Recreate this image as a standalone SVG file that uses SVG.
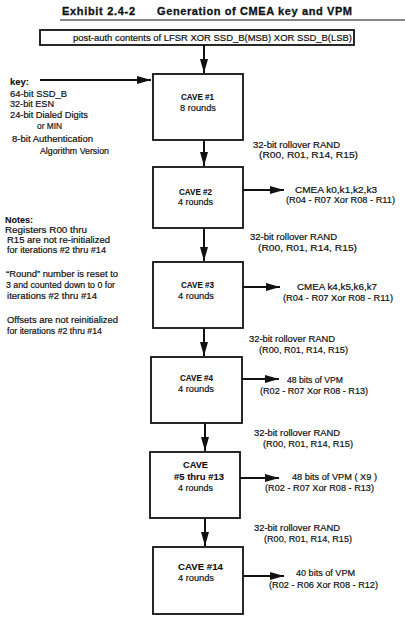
<svg xmlns="http://www.w3.org/2000/svg" width="405" height="620" viewBox="0 0 405 620">
<style>
text{font-family:"Liberation Sans",Arial,sans-serif;font-size:9.5px;fill:#111;stroke:#111;stroke-width:0.2}
.t{font-size:11px;font-weight:bold;stroke-width:0.3}
.b{font-weight:bold;stroke-width:0.1}
.box{fill:#fff;stroke:#111;stroke-width:1.8}
.c{stroke:#111;stroke-width:2;fill:none}
</style>
<defs>
<marker id="ah" viewBox="0 0 14 8" refX="14" refY="4" markerWidth="14" markerHeight="8" markerUnits="userSpaceOnUse" orient="auto">
<path d="M0,0 L14,4 L0,8 Z" fill="#111"/>
</marker>
</defs>
<rect width="405" height="620" fill="#fff"/>
<g id="title">
<text class="t" x="62" y="15" textLength="73">Exhibit 2.4-2</text>
<text class="t" x="157" y="15" textLength="195">Generation of CMEA key and VPM</text>
<line x1="60" y1="20" x2="405" y2="20" stroke="#111" stroke-width="1"/>
</g>
<g id="input">
<rect class="box" x="40" y="30" width="314" height="15"/>
<text x="73" y="41" textLength="279" lengthAdjust="spacingAndGlyphs">post-auth contents of LFSR XOR SSD_B(MSB) XOR SSD_B(LSB)</text>
</g>
<g id="key">
<text class="b" x="10" y="85" textLength="19" lengthAdjust="spacingAndGlyphs">key:</text>
<text x="10" y="97" textLength="57" lengthAdjust="spacingAndGlyphs">64-bit SSD_B</text>
<text x="10" y="107" textLength="44" lengthAdjust="spacingAndGlyphs">32-bit ESN</text>
<text x="10" y="118" textLength="78" lengthAdjust="spacingAndGlyphs">24-bit Dialed Digits</text>
<text x="37" y="129" textLength="25" lengthAdjust="spacingAndGlyphs">or MIN</text>
<text x="12" y="142" textLength="81" lengthAdjust="spacingAndGlyphs">8-bit Authentication</text>
<text x="40" y="154" textLength="69" lengthAdjust="spacingAndGlyphs">Algorithm Version</text>
</g>
<g id="notes">
<text class="b" x="5" y="223" textLength="28" lengthAdjust="spacingAndGlyphs">Notes:</text>
<text x="5" y="233" textLength="82" lengthAdjust="spacingAndGlyphs">Registers R00 thru</text>
<text x="7" y="243" textLength="103" lengthAdjust="spacingAndGlyphs">R15 are not re-initialized</text>
<text x="7" y="253" textLength="99" lengthAdjust="spacingAndGlyphs">for iterations #2 thru #14</text>
<text x="6" y="277" textLength="112" lengthAdjust="spacingAndGlyphs">“Round” number is reset  to</text>
<text x="6" y="288" textLength="109" lengthAdjust="spacingAndGlyphs">3 and counted down to 0 for</text>
<text x="7" y="299" textLength="90" lengthAdjust="spacingAndGlyphs">iterations #2 thru #14</text>
<text x="7" y="323" textLength="111" lengthAdjust="spacingAndGlyphs">Offsets are not reinitialized</text>
<text x="7" y="334" textLength="95" lengthAdjust="spacingAndGlyphs">for iterations #2 thru #14</text>
</g>
<g id="cave1">
<rect class="box" x="153" y="74" width="90" height="66"/>
<text class="b" x="181" y="100" textLength="33" lengthAdjust="spacingAndGlyphs">CAVE #1</text>
<text x="180" y="111" textLength="36" lengthAdjust="spacingAndGlyphs">8 rounds</text>
</g>
<g id="cave2">
<rect class="box" x="153" y="167" width="90" height="61"/>
<text class="b" x="179" y="195" textLength="33" lengthAdjust="spacingAndGlyphs">CAVE #2</text>
<text x="178" y="205" textLength="35" lengthAdjust="spacingAndGlyphs">4 rounds</text>
</g>
<g id="cave3">
<rect class="box" x="153" y="262" width="90" height="66"/>
<text class="b" x="181" y="288" textLength="33" lengthAdjust="spacingAndGlyphs">CAVE #3</text>
<text x="178" y="299" textLength="36" lengthAdjust="spacingAndGlyphs">4 rounds</text>
</g>
<g id="cave4">
<rect class="box" x="151" y="357" width="91" height="66"/>
<text class="b" x="180" y="381" textLength="33" lengthAdjust="spacingAndGlyphs">CAVE #4</text>
<text x="178" y="392" textLength="36" lengthAdjust="spacingAndGlyphs">4 rounds</text>
</g>
<g id="cave5">
<rect class="box" x="150" y="452" width="90" height="66"/>
<text class="b" x="183" y="468" textLength="25" lengthAdjust="spacingAndGlyphs">CAVE</text>
<text class="b" x="174" y="480" textLength="50" lengthAdjust="spacingAndGlyphs">#5 thru #13</text>
<text x="178" y="491" textLength="35" lengthAdjust="spacingAndGlyphs">4 rounds</text>
</g>
<g id="cave14">
<rect class="box" x="153" y="547" width="90" height="67"/>
<text class="b" x="178" y="570" textLength="45" lengthAdjust="spacingAndGlyphs">CAVE #14</text>
<text x="178" y="581" textLength="36" lengthAdjust="spacingAndGlyphs">4 rounds</text>
</g>
<g id="connectors">
<line class="c" x1="204" y1="45" x2="204" y2="73" marker-end="url(#ah)"/>
<line class="c" x1="40" y1="80" x2="151" y2="80" marker-end="url(#ah)"/>
<line class="c" x1="204" y1="140" x2="204" y2="166" marker-end="url(#ah)"/>
<line class="c" x1="204" y1="228" x2="204" y2="261" marker-end="url(#ah)"/>
<line class="c" x1="204" y1="328" x2="204" y2="356" marker-end="url(#ah)"/>
<line class="c" x1="205" y1="423" x2="205" y2="451" marker-end="url(#ah)"/>
<line class="c" x1="205" y1="518" x2="205" y2="546" marker-end="url(#ah)"/>
<line class="c" x1="243" y1="190" x2="284" y2="190" marker-end="url(#ah)"/>
<line class="c" x1="243" y1="287" x2="280" y2="287" marker-end="url(#ah)"/>
<line class="c" x1="242" y1="379" x2="279" y2="379" marker-end="url(#ah)"/>
<line class="c" x1="240" y1="478" x2="279" y2="478" marker-end="url(#ah)"/>
<line class="c" x1="243" y1="576" x2="284" y2="576" marker-end="url(#ah)"/>
</g>
<g id="labels">
<text x="253" y="148" textLength="87" lengthAdjust="spacingAndGlyphs">32-bit rollover RAND</text>
<text x="259" y="158" textLength="99" lengthAdjust="spacingAndGlyphs">(R00,  R01,  R14,  R15)</text>
<text x="295" y="193" textLength="82" lengthAdjust="spacingAndGlyphs">CMEA k0,k1,k2,k3</text>
<text x="286" y="203" textLength="109" lengthAdjust="spacingAndGlyphs">(R04 - R07 Xor R08 - R11)</text>
<text x="250" y="240" textLength="87" lengthAdjust="spacingAndGlyphs">32-bit rollover RAND</text>
<text x="258" y="251" textLength="99" lengthAdjust="spacingAndGlyphs">(R00,  R01,  R14,  R15)</text>
<text x="297" y="290" textLength="80" lengthAdjust="spacingAndGlyphs">CMEA k4,k5,k6,k7</text>
<text x="283" y="301" textLength="110" lengthAdjust="spacingAndGlyphs">(R04 - R07 Xor R08 - R11)</text>
<text x="249" y="342" textLength="86" lengthAdjust="spacingAndGlyphs">32-bit rollover RAND</text>
<text x="259" y="353" textLength="89" lengthAdjust="spacingAndGlyphs">(R00, R01, R14, R15)</text>
<text x="287" y="383" textLength="56" lengthAdjust="spacingAndGlyphs">48 bits of VPM</text>
<text x="260" y="394" textLength="108" lengthAdjust="spacingAndGlyphs">(R02 - R07 Xor R08 - R13)</text>
<text x="254" y="436" textLength="86" lengthAdjust="spacingAndGlyphs">32-bit rollover RAND</text>
<text x="263" y="447" textLength="90" lengthAdjust="spacingAndGlyphs">(R00, R01, R14, R15)</text>
<text x="292" y="480" textLength="85" lengthAdjust="spacingAndGlyphs">48 bits of VPM ( X9 )</text>
<text x="265" y="491" textLength="109" lengthAdjust="spacingAndGlyphs">(R02 - R07 Xor R08 - R13)</text>
<text x="254" y="531" textLength="86" lengthAdjust="spacingAndGlyphs">32-bit rollover RAND</text>
<text x="264" y="542" textLength="88" lengthAdjust="spacingAndGlyphs">(R00, R01, R14, R15)</text>
<text x="296" y="576" textLength="59" lengthAdjust="spacingAndGlyphs">40 bits of VPM</text>
<text x="269" y="588" textLength="109" lengthAdjust="spacingAndGlyphs">(R02 - R06 Xor R08 - R12)</text>
</g>
</svg>
